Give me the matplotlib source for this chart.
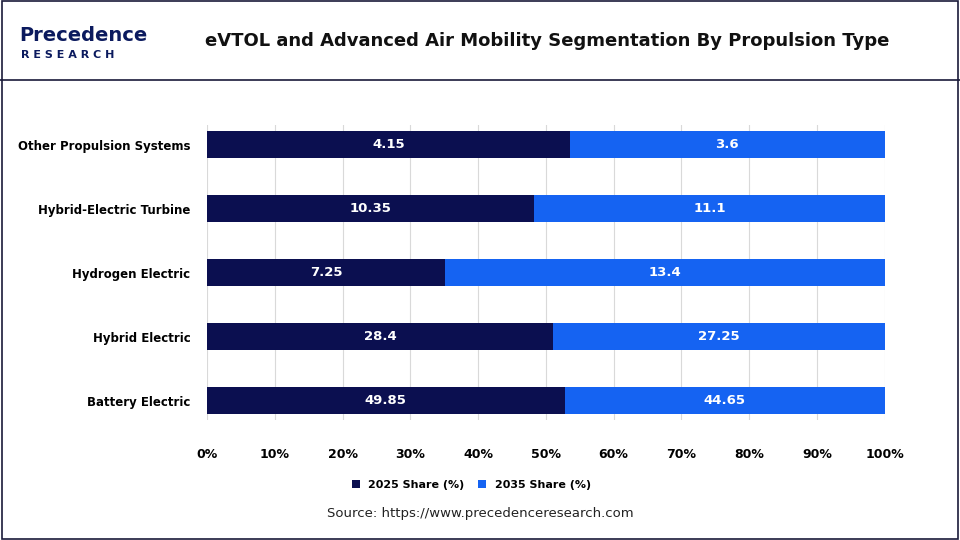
import matplotlib
matplotlib.use("Agg")
import matplotlib.pyplot as plt
from matplotlib.patches import Rectangle
from matplotlib.lines import Line2D

categories = ["Battery Electric", "Hybrid Electric", "Hydrogen Electric",
              "Hybrid-Electric Turbine", "Other Propulsion Systems"]
share_2025 = [49.85, 28.4, 7.25, 10.35, 4.15]
share_2035 = [44.65, 27.25, 13.4, 11.1, 3.6]
series_names = ["2025 Share (%)", "2035 Share (%)"]
c1, c2 = "#0b0f50", "#1563f2"

fig = plt.figure(figsize=(9.6, 5.4), dpi=100)
fig.patches.append(Rectangle((0.002, 0.002), 0.996, 0.996, transform=fig.transFigure,
                             fill=False, edgecolor="#1a1a3a", linewidth=1.2))
fig.lines.append(Line2D([0, 1], [0.852, 0.852], transform=fig.transFigure, color="#1a1a3a", linewidth=1.2))
fig.text(0.57, 0.925, "eVTOL and Advanced Air Mobility Segmentation By Propulsion Type",
         ha="center", va="center", fontsize=13, fontweight="bold", color="#111111")
fig.text(0.02, 0.935, "Precedence", fontsize=14, fontweight="bold", color="#0b1a5e", va="center")
fig.text(0.022, 0.898, "R E S E A R C H", fontsize=8, fontweight="bold", color="#0b1a5e", va="center")
fig.text(0.5, 0.042, "Source: https://www.precedenceresearch.com", ha="center", fontsize=9.5, color="#222222")

ax = fig.add_axes([0.2156, 0.222, 0.706, 0.546])
tot = [a + b for a, b in zip(share_2025, share_2035)]
p1 = [a / t * 100 for a, t in zip(share_2025, tot)]
p2 = [b / t * 100 for b, t in zip(share_2035, tot)]
y = range(len(categories))
ax.barh(y, p1, height=0.42, color=c1, label=series_names[0])
ax.barh(y, p2, left=p1, height=0.42, color=c2, label=series_names[1])
for i in y:
    ax.text(p1[i] / 2, i, f"{share_2025[i]:g}", ha="center", va="center", color="white", fontsize=9.5, fontweight="bold")
    ax.text(p1[i] + p2[i] / 2, i, f"{share_2035[i]:g}", ha="center", va="center", color="white", fontsize=9.5, fontweight="bold")
ax.set_xlim(0, 100)
ax.set_ylim(-0.3, 4.3)
ax.set_xticks(range(0, 101, 10))
ax.set_xticklabels([f"{v}%" for v in range(0, 101, 10)], fontsize=9, fontweight="bold")
ax.set_yticks(list(y))
ax.set_yticklabels(categories, fontsize=8.5, fontweight="bold")
ax.tick_params(axis="y", length=0, pad=12)
ax.tick_params(axis="x", length=0, pad=20)
ax.xaxis.grid(True, color="#d9d9d9", linewidth=0.8)
ax.set_axisbelow(True)
for s in ax.spines.values():
    s.set_visible(False)
ax.legend(loc="center", bbox_to_anchor=(0.39, -0.22), ncol=2, frameon=False,
          prop={"size": 8, "weight": "bold"}, handlelength=0.7, handleheight=0.7, columnspacing=1.2)
fig.savefig("out.png", dpi=100)
